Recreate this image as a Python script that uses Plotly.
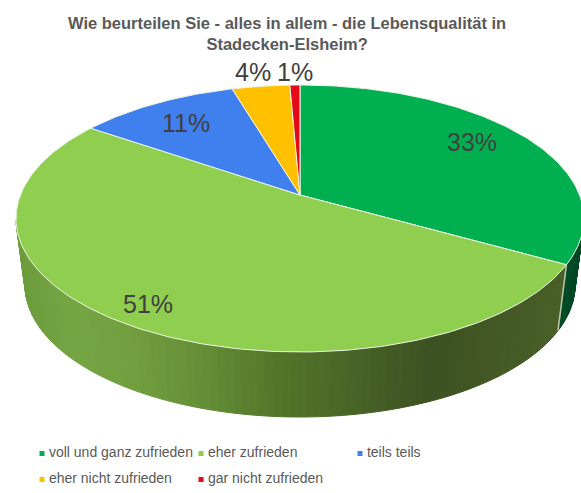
import numpy as np
import plotly.graph_objects as go

# ---- data ----
categories = ["voll und ganz zufrieden", "eher zufrieden", "teils teils",
              "eher nicht zufrieden", "gar nicht zufrieden"]
values = [33, 51.4, 10.9, 4.0, 0.7]
value_labels = ["33%", "51%", "11%", "4%", "1%"]

# ---- style / layout ----
colors = ["#00B050", "#8FCE4F", "#3F7FEE", "#FFC000", "#E30B17"]
title = "Wie beurteilen Sie - alles in allem - die Lebensqualität in<br>Stadecken-Elsheim?"
W, H = 581, 493
CX, CY, A, B = 300.0, 218.5, 284.0, 133.5   # rim ellipse
AX, AY, K = 300.0, 195.0, 0.476             # projected pie centre, tilt ratio
BOT_A, BOT_B, BOT_CY = 275.0, 132.0, 285.0  # lower rim ellipse (perspective)
label_xy = [(472, 142), (148, 304), (186, 123), (253, 72), (295, 72)]
legend_xy = [(42, 453.5), (201, 453.5), (360, 453.5), (42, 479.5), (201, 479.5)]
wall_stops = {1: ([17, 70, 130, 200, 280, 330, 380, 430, 570],
                  ["#6c9c3c", "#76a544", "#729f3f", "#648f38", "#527529", "#4c6a28",
                   "#445e26", "#3d5222", "#4a6028"]),
              0: ([550, 590], ["#00522a", "#004521"])}


def hex2rgb(c):
    return np.array([int(c[i:i + 2], 16) for i in (1, 3, 5)], float)


def wall_color(i, x):
    xs, cs = wall_stops[i]
    rgb = [np.interp(x, xs, [hex2rgb(c)[k] for c in cs]) for k in range(3)]
    return "rgb(%d,%d,%d)" % tuple(rgb)


def rim(t):
    """Point on the rim for pie angle t (radians, clockwise from top)."""
    dx, dy = np.sin(t), -K * np.cos(t)
    ox, oy = (AX - CX) / A, (AY - CY) / B
    ux, uy = dx / A, dy / B
    a = ux * ux + uy * uy
    b = 2 * (ox * ux + oy * uy)
    c = ox * ox + oy * oy - 1
    s = (-b + np.sqrt(b * b - 4 * a * c)) / (2 * a)
    return AX + s * dx, AY + s * dy


def lower(x, y):
    return CX + (x - CX) * BOT_A / A, BOT_CY + (y - CY) * BOT_B / B


fracs = np.array(values) / sum(values)
edges = np.concatenate([[0], np.cumsum(fracs)]) * 2 * np.pi

fig = go.Figure()

# side walls
for i in (0, 1):
    ts = np.linspace(edges[i], edges[i + 1], 130)
    for t0, t1 in zip(ts[:-1], ts[1:]):
        x0, y0 = rim(t0)
        x1, y1 = rim(t1)
        if min(y0, y1) < CY:
            continue
        lx0, ly0 = lower(x0, y0)
        lx1, ly1 = lower(x1, y1)
        col = wall_color(i, (x0 + x1) / 2)
        fig.add_trace(go.Scatter(
            x=[x0, x1, lx1, lx0, x0], y=[y0, y1, ly1, ly0, y0],
            mode="lines", fill="toself", fillcolor=col,
            line=dict(color=col, width=1), hoverinfo="skip", showlegend=False))

# light edge on the wall at the slice boundary
bx, by = rim(edges[1])
lbx, lby = lower(bx, by)
fig.add_trace(go.Scatter(x=[bx, lbx], y=[by, lby], mode="lines",
                         line=dict(color="#b9c7ae", width=1.5),
                         hoverinfo="skip", showlegend=False))

# top faces
for i, c in enumerate(colors):
    ts = np.linspace(edges[i], edges[i + 1], max(4, int(fracs[i] * 400)))
    px, py = zip(*[rim(t) for t in ts])
    fig.add_trace(go.Scatter(
        x=[AX, *px, AX], y=[AY, *py, AY], mode="lines", fill="toself", fillcolor=c,
        line=dict(color="#eef5e6", width=1), name=categories[i],
        hoverinfo="name", showlegend=False))

# percentage labels
for lab, (lx, ly) in zip(value_labels, label_xy):
    fig.add_annotation(x=lx, y=ly, text=lab, showarrow=False,
                       font=dict(family="Liberation Sans", size=25, color="#404040"))

# legend
for name, c, (lx, ly) in zip(categories, colors, legend_xy):
    fig.add_trace(go.Scatter(
        x=[lx], y=[ly], mode="markers+text", text=["\u2009" + name], textposition="middle right",
        marker=dict(symbol="square", size=5, color=c),
        textfont=dict(family="Liberation Sans", size=14, color="#595959"),
        hoverinfo="skip", showlegend=False))

fig.add_annotation(x=287, y=33, text=title, showarrow=False, align="center",
                   font=dict(family="Liberation Sans", size=16.5, color="#595959", weight="bold"))

fig.update_layout(
    width=W, height=H, autosize=False, margin=dict(l=0, r=0, t=0, b=0),
    paper_bgcolor="white", plot_bgcolor="white", showlegend=False,
    xaxis=dict(range=[0, W], visible=False, fixedrange=True),
    yaxis=dict(range=[H, 0], visible=False, fixedrange=True))
fig.write_html("out.html", config=dict(displayModeBar=False),
               post_script="document.body.style.margin='0';document.body.style.overflow='hidden';")
